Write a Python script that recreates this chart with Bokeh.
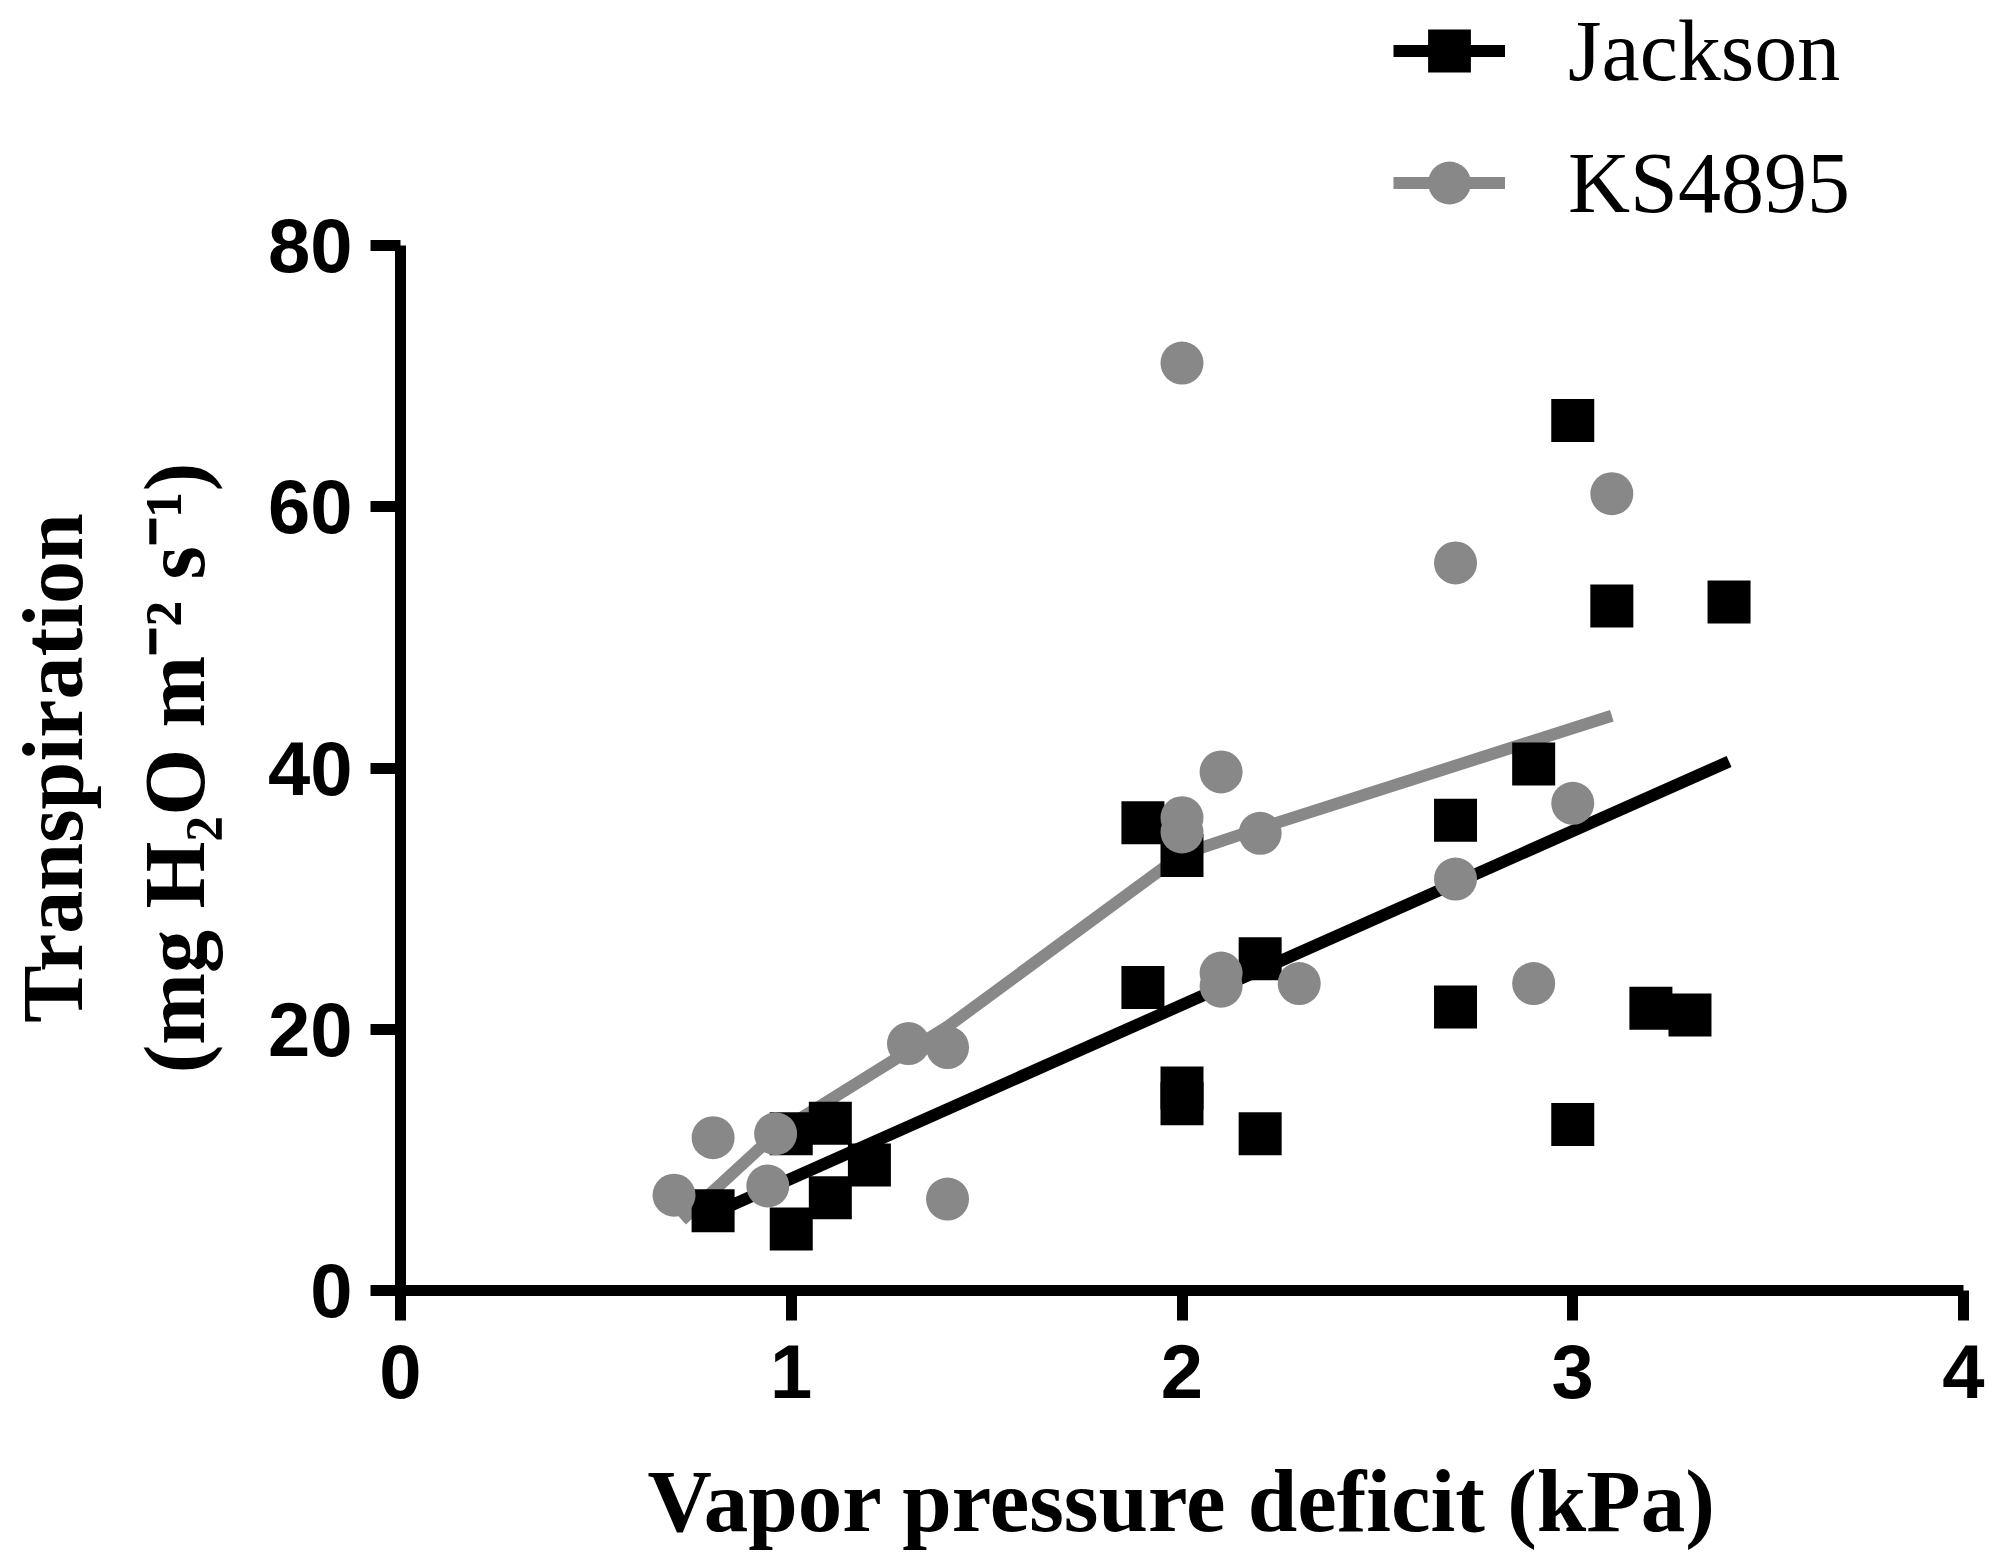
from bokeh.plotting import figure
from bokeh.models import Range1d, Legend, LegendItem, FixedTicker
from bokeh.embed import file_html
from bokeh.resources import INLINE

# ---- data ----
jackson_x = [0.8, 1.0, 1.0, 1.1, 1.1, 1.2, 1.9, 1.9, 2.0, 2.0, 2.0, 2.2, 2.2,
             2.7, 2.7, 2.9, 3.0, 3.0, 3.1, 3.2, 3.3, 3.4]
jackson_y = [6.1, 4.7, 12.0, 12.8, 7.1, 9.6, 35.8, 23.2, 33.3, 15.5, 14.3, 25.4, 12.0,
             36.0, 21.7, 40.3, 66.6, 12.7, 52.4, 21.6, 21.1, 52.7]

ks_x = [0.7, 0.8, 0.96, 0.94, 1.3, 1.4, 1.4, 2.0, 2.0, 2.0, 2.1, 2.1, 2.1, 2.2,
        2.3, 2.7, 2.7, 2.9, 3.0, 3.1]
ks_y = [7.3, 11.7, 12.0, 8.0, 18.9, 18.6, 7.0, 71.0, 36.2, 35.1, 39.7, 24.3, 23.3, 35.0,
        23.5, 55.7, 31.5, 23.5, 37.3, 61.0]

jackson_fit_x = [0.8, 3.4]
jackson_fit_y = [5.9, 40.5]

ks_line_x = [0.72, 0.96, 1.4, 2.0, 2.2, 3.1]
ks_line_y = [5.4, 12.0, 20.2, 33.4, 35.4, 44.0]

x_ticks = [0, 1, 2, 3, 4]
y_ticks = [0, 20, 40, 60, 80]

BLACK = "#000000"
GREY = "#888888"

W, H = 1990, 1550
# the plotting frame covers the whole canvas; both axes sit at 0 inside it and are
# bounded to the data extent (0..4, 0..80), so nothing (legend included) is clipped
X0_PX, X_PER = 400.0, 390.75      # page x of x=0, pixels per kPa
Y0_PX, Y_PER = 1290.0, 13.0625    # page y of y=0, pixels per unit
x_range = Range1d(-X0_PX / X_PER, (W - X0_PX) / X_PER)
y_range = Range1d(-(H - Y0_PX) / Y_PER, Y0_PX / Y_PER)

p = figure(width=W, height=H, output_backend="svg", toolbar_location=None,
           x_range=x_range, y_range=y_range,
           min_border_left=0, min_border_right=0, min_border_top=0, min_border_bottom=0)
p.grid.visible = False
p.outline_line_color = None
p.background_fill_color = "white"
p.border_fill_color = "white"

kl = p.line(ks_line_x, ks_line_y, line_color=GREY, line_width=12)
jl = p.line(jackson_fit_x, jackson_fit_y, line_color=BLACK, line_width=12)
js = p.scatter(jackson_x, jackson_y, marker="square", size=43, fill_color=BLACK, line_color=None)
ks = p.scatter(ks_x, ks_y, marker="circle", size=43, fill_color=GREY, line_color=None)

for ax in (p.xaxis[0], p.yaxis[0]):
    ax.fixed_location = 0
    ax.axis_line_width = 11
    ax.axis_line_color = BLACK
    ax.major_tick_line_width = 11
    ax.major_tick_line_color = BLACK
    ax.major_tick_out = 30
    ax.major_tick_in = 0
    ax.minor_tick_line_color = None
    ax.major_label_text_font = "Liberation Sans"
    ax.major_label_text_font_style = "bold"
    ax.major_label_text_font_size = "76px"
    ax.major_label_text_color = BLACK
    ax.axis_label_text_font = "Liberation Serif"
    ax.axis_label_text_font_style = "bold"
    ax.axis_label_text_color = BLACK

p.xaxis.ticker = FixedTicker(ticks=x_ticks)
p.yaxis.ticker = FixedTicker(ticks=y_ticks)
p.xaxis.bounds = (0, 4)
p.yaxis.bounds = (0, 80)
p.xaxis.major_label_standoff = 24
p.yaxis.major_label_standoff = 18

p.xaxis.axis_label = "Vapor pressure deficit (kPa)"
p.xaxis.axis_label_text_font_size = "89px"
p.xaxis.axis_label_standoff = 51

p.yaxis.axis_label = "Transpiration\n(mg H\u2082O m\u207b\u00b2 s\u207b\u00b9)"
p.yaxis.axis_label_text_font_size = "86px"
p.yaxis.axis_label_text_line_height = 1.27
p.yaxis.axis_label_standoff = 42

legend = Legend(items=[LegendItem(label="Jackson", renderers=[jl, js]),
                       LegendItem(label="KS4895", renderers=[kl, ks])],
                location=(1393, 1314), glyph_width=112, glyph_height=107, spacing=25,
                label_standoff=63, padding=0, margin=0, border_line_color=None,
                background_fill_alpha=0, label_text_font="Liberation Serif",
                label_text_font_size="86px", label_text_color=BLACK)
p.add_layout(legend, "center")

open("out.html", "w").write(file_html(p, INLINE))
